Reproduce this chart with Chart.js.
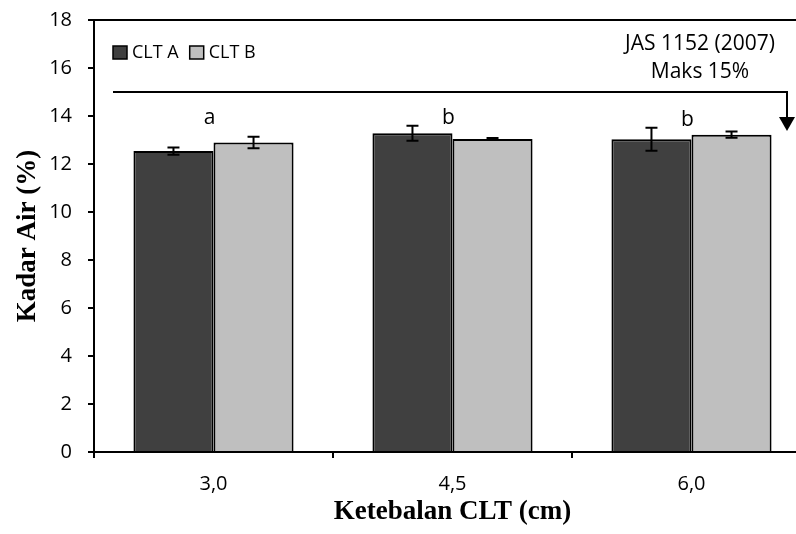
<!DOCTYPE html>
<html>
<head>
<meta charset="utf-8">
<script src="https://cdn.jsdelivr.net/npm/chart.js@4"></script>
<style>
  html, body { margin: 0; padding: 0; background: #fff; overflow: hidden; }
  #wrap { width: 812px; height: 534px; }
</style>
</head>
<body>
<div id="wrap"><canvas id="kadarChart" width="812" height="534"></canvas></div>
<script>
// data
const categories = ['3,0', '4,5', '6,0'];
const seriesNames = ['CLT A', 'CLT B'];
const cltA = [12.54, 13.28, 13.03];
const cltB = [12.90, 13.04, 13.22];
const errA = [0.15, 0.31, 0.48];
const errB = [0.24, 0.04, 0.13];
const groupLetters = ['a', 'b', 'b'];
const letterLevel = [13.65, 13.65, 13.58];
const yTicks = [0, 2, 4, 6, 8, 10, 12, 14, 16, 18];
const limitValue = 15;     // JAS 1152 (2007) max 15%
const arrowTipValue = 13.38;
const limitText = ['JAS 1152 (2007)', 'Maks 15%'];

const FONT = "'Open Sans', sans-serif";
const colors = ['#404040', '#bfbfbf'];
const errors = [errA, errB];

// error bars on top of each bar
const errorBarPlugin = {
    id: 'errorBars',
    afterDatasetsDraw(chart) {
        const ctx = chart.ctx;
        const y = chart.scales.y;
        ctx.save();
        ctx.strokeStyle = '#000';
        ctx.lineWidth = 2;
        chart.data.datasets.forEach((ds, i) => {
            chart.getDatasetMeta(i).data.forEach((bar, j) => {
                const v = ds.data[j];
                const e = errors[i][j];
                const top = y.getPixelForValue(v + e);
                const bot = y.getPixelForValue(v - e);
                ctx.beginPath();
                ctx.moveTo(bar.x, top); ctx.lineTo(bar.x, bot);
                ctx.moveTo(bar.x - 6, top); ctx.lineTo(bar.x + 6, top);
                ctx.moveTo(bar.x - 6, bot); ctx.lineTo(bar.x + 6, bot);
                ctx.stroke();
            });
        });
        ctx.restore();
    }
};

// limit line with arrow, letters, legend and the JAS note
const notesPlugin = {
    id: 'notes',
    afterDraw(chart) {
        const ctx = chart.ctx;
        const x = chart.scales.x;
        const y = chart.scales.y;
        const area = chart.chartArea;
        ctx.save();

        // limit line
        const ly = y.getPixelForValue(limitValue);
        const tipY = y.getPixelForValue(arrowTipValue);
        const x0 = area.left + 19;
        const x1 = area.right - 24;
        ctx.strokeStyle = '#000';
        ctx.lineWidth = 2;
        ctx.beginPath();
        ctx.moveTo(x0, ly);
        ctx.lineTo(x1, ly);
        ctx.lineTo(x1, tipY - 12);
        ctx.stroke();
        ctx.fillStyle = '#000';
        ctx.beginPath();
        ctx.moveTo(x1 - 8, tipY - 14);
        ctx.lineTo(x1 + 8, tipY - 14);
        ctx.lineTo(x1, tipY);
        ctx.closePath();
        ctx.fill();

        // significance letters
        ctx.font = '21px ' + FONT;
        ctx.textAlign = 'center';
        ctx.textBaseline = 'alphabetic';
        groupLetters.forEach((t, i) => {
            ctx.fillText(t, x.getPixelForValue(i) - 4, y.getPixelForValue(letterLevel[i]));
        });

        // JAS note
        ctx.font = '21px ' + FONT;
        ctx.textBaseline = 'middle';
        ctx.fillText(limitText[0], 700, 44);
        ctx.fillText(limitText[1], 700, 72);

        // legend
        ctx.font = '18px ' + FONT;
        ctx.textAlign = 'left';
        let lx = area.left + 19;
        chart.data.datasets.forEach(ds => {
            ctx.fillStyle = ds.backgroundColor;
            ctx.fillRect(lx, 46, 14, 13);
            ctx.lineWidth = 1.5;
            ctx.strokeRect(lx, 46, 14, 13);
            ctx.fillStyle = '#000';
            ctx.fillText(ds.label, lx + 19, 53);
            lx += ctx.measureText(ds.label).width + 19 + 11;
        });
        ctx.restore();
    }
};

new Chart(document.getElementById('kadarChart'), {
    type: 'bar',
    data: {
        labels: categories,
        datasets: [
            { label: seriesNames[0], data: cltA, backgroundColor: colors[0], borderColor: '#000', borderWidth: 2 },
            { label: seriesNames[1], data: cltB, backgroundColor: colors[1], borderColor: '#000', borderWidth: 2 }
        ]
    },
    plugins: [errorBarPlugin, notesPlugin],
    options: {
        responsive: false,
        animation: false,
        devicePixelRatio: 1,
        layout: { padding: { top: 20, right: 1, left: 0, bottom: 0 } },
        datasets: { bar: { categoryPercentage: 0.67, barPercentage: 1.0 } },
        plugins: { legend: { display: false }, tooltip: { enabled: false } },
        scales: {
            x: {
                afterFit: s => { s.height = 82; s.paddingLeft = 0; s.paddingRight = 0; },
                grid: { drawOnChartArea: false, tickLength: 6, color: '#000', lineWidth: 2 },
                border: { color: '#000', width: 2 },
                ticks: { color: '#000', font: { family: FONT, size: 20 }, padding: 14 },
                title: {
                    display: true, text: 'Ketebalan CLT (cm)', color: '#000',
                    font: { family: "'Liberation Serif', serif", size: 27, weight: 'bold' },
                    padding: { top: 0, bottom: 6 }
                }
            },
            y: {
                min: 0, max: 18,
                afterFit: s => { s.width = 94; s.paddingTop = 0; s.paddingBottom = 0; },
                afterBuildTicks: s => { s.ticks = yTicks.map(v => ({ value: v })); },
                grid: {
                    drawOnChartArea: true,
                    tickLength: 6,
                    color: c => (c.tick && c.tick.value === 18 ? '#000' : 'rgba(0,0,0,0)'),
                    tickColor: '#000',
                    lineWidth: 2
                },
                border: { color: '#000', width: 2 },
                ticks: { color: '#000', font: { family: FONT, size: 20 }, padding: 16 },
                title: {
                    display: true, text: 'Kadar Air (%)', color: '#000',
                    font: { family: "'Liberation Serif', serif", size: 27, weight: 'bold' },
                    padding: { top: 12, bottom: 0 }
                }
            }
        }
    }
});
</script>
</body>
</html>
